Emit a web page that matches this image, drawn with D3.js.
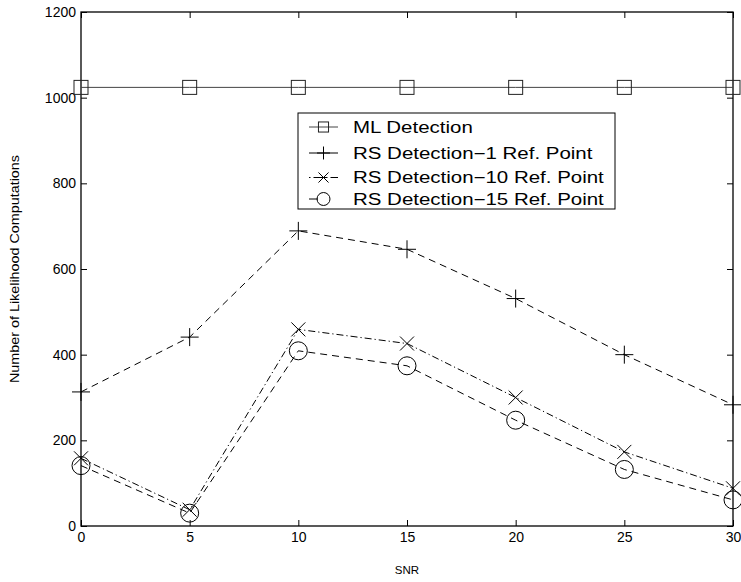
<!DOCTYPE html>
<html>
<head>
<meta charset="utf-8">
<script src="https://cdn.jsdelivr.net/npm/d3@7"></script>
<style>
  html, body { margin: 0; padding: 0; background: #fff; }
  svg { display: block; font-family: "Liberation Sans", Arial, Helvetica, sans-serif; }
</style>
</head>
<body>
<svg id="chart" width="741" height="582"></svg>
<script>
// SNR values along the x axis
const snr = [0, 5, 10, 15, 20, 25, 30];
// Number of likelihood computations per detector
const mlDetection = [1024, 1024, 1024, 1024, 1024, 1024, 1024];
const rs1RefPoint = [313, 441, 689, 646, 531, 400, 283];
const rs10RefPoint = [158, 38, 459, 426, 300, 173, 88];
const rs15RefPoint = [141, 30, 409, 374, 247, 132, 61];
// Axis ticks
const xTicks = [0, 5, 10, 15, 20, 25, 30];
const yTicks = [0, 200, 400, 600, 800, 1000, 1200];
const seriesNames = ["ML Detection", "RS Detection\u22121 Ref. Point",
                     "RS Detection\u221210 Ref. Point", "RS Detection\u221215 Ref. Point"];

const series = [
  { name: seriesNames[0], values: mlDetection,  marker: "square", dash: null,        legendDash: null,              color: "#444", mcolor: "#222" },
  { name: seriesNames[1], values: rs1RefPoint,  marker: "plus",   dash: "7,5",       legendDash: null,              color: "#000", mcolor: "#000" },
  { name: seriesNames[2], values: rs10RefPoint, marker: "x",      dash: "7,3,1.2,3", legendDash: "1.5,3,14,3,8",    color: "#000", mcolor: "#000" },
  { name: seriesNames[3], values: rs15RefPoint, marker: "circle", dash: "7,5",       legendDash: "9,25",            color: "#000", mcolor: "#000" }
];

const svg = d3.select("#chart");
const margin = { left: 81, top: 12, right: 741 - 733, bottom: 582 - 526 };
const W = 741 - margin.left - margin.right;
const H = 582 - margin.top - margin.bottom;

const x = d3.scaleLinear().domain([0, 30]).range([0, W]);
const y = d3.scaleLinear().domain([0, 1200]).range([H, 0]);

const g = svg.append("g").attr("transform", `translate(${margin.left},${margin.top})`);

// Axes with inward ticks on all four sides
const tickLen = 6;
const axisBottom = g.append("g").attr("transform", `translate(0,${H})`)
  .call(d3.axisBottom(x).tickValues(xTicks).tickSizeInner(-tickLen).tickSizeOuter(0).tickPadding(6).tickFormat(d3.format("d")));
const axisLeft = g.append("g")
  .call(d3.axisLeft(y).tickValues(yTicks).tickSizeInner(-tickLen).tickSizeOuter(0).tickPadding(5).tickFormat(d3.format("d")));
const axisTop = g.append("g")
  .call(d3.axisTop(x).tickValues(xTicks).tickSizeInner(-tickLen).tickSizeOuter(0).tickFormat(""));
const axisRight = g.append("g").attr("transform", `translate(${W},0)`)
  .call(d3.axisRight(y).tickValues(yTicks).tickSizeInner(-tickLen).tickSizeOuter(0).tickFormat(""));

[axisBottom, axisLeft, axisTop, axisRight].forEach(a => {
  a.select(".domain").remove();
  a.selectAll("line").attr("stroke", "#000").attr("stroke-width", 1);
  a.selectAll("text").attr("font-size", 14).attr("fill", "#000")
    .attr("font-family", "Liberation Sans, Arial, sans-serif");
});

// Box frame
g.append("rect").attr("x", 0).attr("y", 0).attr("width", W).attr("height", H)
  .attr("fill", "none").attr("stroke", "#000").attr("stroke-width", 1.3);

// Axis titles
svg.append("text").attr("x", margin.left + W / 2).attr("y", 574)
  .attr("text-anchor", "middle").attr("font-size", 11.5).text("SNR");
svg.append("text").attr("transform", `translate(19,${margin.top + H / 2}) rotate(-90)`)
  .attr("text-anchor", "middle").attr("font-size", 12)
  .attr("textLength", 228).attr("lengthAdjust", "spacingAndGlyphs")
  .text("Number of Likelihood Computations");

// Marker drawing; k scales the marker size
function drawMarker(sel, type, cx, cy, color, k = 1) {
  const s = sel.append("g").attr("transform", `translate(${cx},${cy})`)
    .attr("fill", "none").attr("stroke", color).attr("stroke-width", 1);
  if (type === "square") {
    s.append("rect").attr("x", -7 * k).attr("y", -7 * k).attr("width", 14 * k).attr("height", 14 * k);
  } else if (type === "plus") {
    s.append("path").attr("d", `M${-9 * k},0H${9 * k}M0,${-9 * k}V${9 * k}`);
  } else if (type === "x") {
    const r = 7 * k;
    s.append("path").attr("d", `M${-r},${-r}L${r},${r}M${-r},${r}L${r},${-r}`);
  } else if (type === "circle") {
    s.append("circle").attr("r", 9 * k);
  }
}

const line = d3.line().x((d, i) => x(snr[i])).y(d => y(d));
const plot = g.append("g");

series.forEach(sr => {
  plot.append("path").datum(sr.values)
    .attr("d", line).attr("fill", "none")
    .attr("stroke", sr.color).attr("stroke-width", 1)
    .attr("stroke-dasharray", sr.dash);
  sr.values.forEach((v, i) => drawMarker(plot, sr.marker, x(snr[i]), y(v), sr.mcolor));
});

// Legend
const legend = svg.append("g").attr("transform", "translate(298,113)");
legend.append("rect").attr("x", 0).attr("y", 0).attr("width", 317).attr("height", 96)
  .attr("fill", "#fff").attr("stroke", "#000").attr("stroke-width", 1);
const rowY = [14, 40, 64.5, 86];
series.forEach((sr, i) => {
  const ry = rowY[i];
  legend.append("path").attr("d", `M11,${ry}H40`).attr("fill", "none")
    .attr("stroke", sr.color).attr("stroke-width", 1).attr("stroke-dasharray", sr.legendDash);
  drawMarker(legend, sr.marker, 25.5, ry, sr.mcolor, 0.72);
  legend.append("text")
    .attr("transform", `translate(55,${ry}) scale(1.28,1)`)
    .attr("dy", "0.36em")
    .attr("font-size", 16).attr("fill", "#000").text(sr.name);
});
</script>
</body>
</html>
